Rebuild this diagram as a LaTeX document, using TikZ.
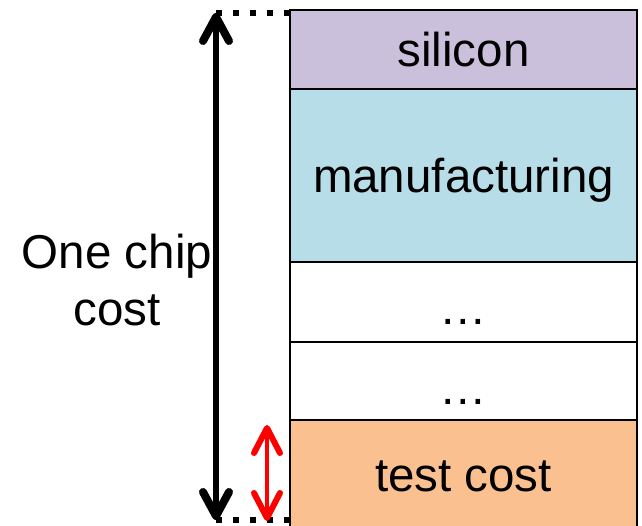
\documentclass[tikz,border=0pt]{standalone}
\usepackage{fontspec}
\setmainfont{Liberation Sans}
\usepackage{tikz}
\usetikzlibrary{arrows.meta, positioning}
\usepackage{xcolor}
\definecolor{siliciocolor}{HTML}{CBC0DB}
\definecolor{fabcolor}{HTML}{B7DDE8}
\definecolor{pruebacolor}{HTML}{FAC090}

\begin{document}
\begin{tikzpicture}[
        x=1pt, y=-1pt,
        capa/.style={
            rectangle,
            draw=black,
            line width=2.6pt,
            outer sep=0pt,
            inner sep=0pt,
            minimum width=347pt,
            text depth=0pt,
            font=\fontsize{47.5}{57}\selectfont
        },
        flecha/.style={
            {Straight Barb[length=24pt,width=26pt,round,line width=8pt]}-{Straight Barb[length=24pt,width=26pt,round,line width=8pt]},
            line width=6pt
        },
        flechaprueba/.style={
            {Straight Barb[length=25pt,width=26pt,round,line width=6pt]}-{Straight Barb[length=25pt,width=26pt,round,line width=6pt]},
            line width=4.5pt,
            red
        },
        guia/.style={
            line width=6pt,
            dash pattern=on 6pt off 11pt
        },
        etiqueta/.style={
            align=center,
            font=\fontsize{47.5}{57}\selectfont
        }
    ]

    \clip (0,0) rectangle (642,526);

    \node[capa, fill=siliciocolor, minimum height=79pt] (silicon) at (463.5,49.5) {silicon};

    \node[capa, fill=fabcolor, minimum height=173pt, below=0pt of silicon] (manufacturing) {manufacturing};

    \node[capa, fill=white, minimum height=80pt, below=0pt of manufacturing] (dots1) {\raisebox{-23pt}{…}};

    \node[capa, fill=white, minimum height=78pt, below=0pt of dots1] (dots2) {\raisebox{-23pt}{…}};

    \node[capa, fill=pruebacolor, minimum height=112pt, below=0pt of dots2] (testcost) {test cost};

    \coordinate (costtop) at (216,13);
    \coordinate (costbottom) at (216,520);
    \coordinate (testtop) at (267,425);
    \coordinate (testbottom) at (267,521);

    \node[etiqueta] (label) at (117,280) {One chip\\cost};

    \draw[guia] (costtop) -- (costtop -| silicon.west);
    \draw[guia] (costbottom) -- (costbottom -| silicon.west);

    \draw[flecha] (costtop) -- (costbottom);

    \draw[flechaprueba] (testtop) -- (testbottom);

\end{tikzpicture}
\end{document}
